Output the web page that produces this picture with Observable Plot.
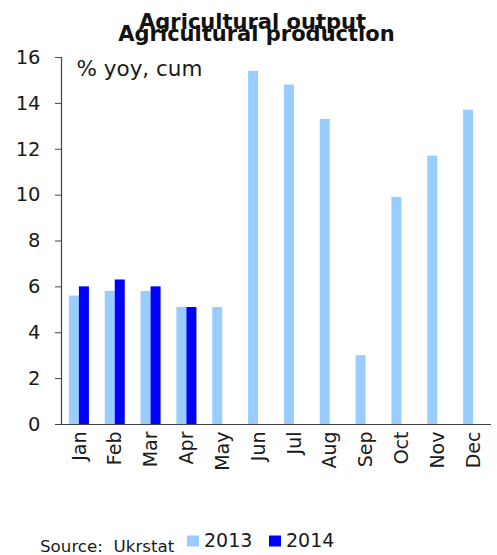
<!DOCTYPE html>
<html><head><meta charset="utf-8">
<script src="https://cdn.jsdelivr.net/npm/d3@7"></script>
<script src="https://cdn.jsdelivr.net/npm/@observablehq/plot@0.6"></script>
<style>
body{margin:0;background:#fff;}
#wrap{position:relative;width:497px;height:555px;overflow:hidden;background:#fff;}
#chart{position:absolute;left:0;top:0;}
#overlay{position:absolute;left:0;top:0;}
</style></head><body>
<div id="wrap"><div id="chart"></div><svg id="overlay" width="497" height="555"></svg></div>
<script>
const months = ["Jan","Feb","Mar","Apr","May","Jun","Jul","Aug","Sep","Oct","Nov","Dec"];
const v2013 = [5.6, 5.8, 5.8, 5.1, 5.1, 15.4, 14.8, 13.3, 3.0, 9.9, 11.7, 13.7];
const v2014 = [6.0, 6.3, 6.0, 5.1, null, null, null, null, null, null, null, null];
const yTicks = [0, 2, 4, 6, 8, 10, 12, 14, 16];
const seriesNames = ["2013", "2014"];
const colors = ["#99ccff", "#0000ff"];
const titleLines = ["Agricultural output", "Agricultural production"];
const unitLabel = "% yoy, cum";
const sourceText = "Source:\u00a0 Ukrstat";

const rows13 = months.map((m, i) => ({month: m, value: v2013[i]}));
const rows14 = months.map((m, i) => ({month: m, value: v2014[i]})).filter(d => d.value != null);

const W = 497, H = 480, ML = 61, MR = 6, MT = 57, MB = 56;
const bw = (W - ML - MR) / months.length;
const barW = 10;
const font = "'DejaVu Sans', Verdana, sans-serif";
const ink = "#1a1a1a";

const chart = Plot.plot({
  width: W, height: H,
  marginLeft: ML, marginRight: MR, marginTop: MT, marginBottom: MB,
  style: {fontFamily: font, fontSize: "19px", color: ink, background: "white"},
  x: {domain: months, padding: 0, round: false, label: null},
  y: {domain: [0, 16], label: null},
  marks: [
    Plot.barY(rows13, {x: "month", y: "value", fill: colors[0], insetLeft: bw/2 - barW, insetRight: bw/2}),
    Plot.barY(rows14, {x: "month", y: "value", fill: colors[1], insetLeft: bw/2, insetRight: bw/2 - barW}),
    Plot.ruleY([0], {stroke: "#444", strokeWidth: 1.2}),
    Plot.frame({anchor: "left", stroke: "#444", strokeWidth: 1.2}),
    Plot.axisY({ticks: yTicks, tickSize: 6, tickPadding: 15, fontSize: 19.5, label: null, stroke: "#444"}),
    Plot.axisX({tickRotate: -90, tickSize: 0, tickPadding: 7, fontSize: 19, label: null})
  ]
});
document.getElementById("chart").appendChild(chart);

const ov = d3.select("#overlay").style("font-family", font);
ov.append("text").attr("x", 252.5).attr("y", 28.5).attr("text-anchor", "middle")
  .attr("font-weight", "bold").attr("font-size", 21).attr("fill", "#111").text(titleLines[0]);
ov.append("text").attr("x", 256.5).attr("y", 40.5).attr("text-anchor", "middle")
  .attr("font-weight", "bold").attr("font-size", 21).attr("fill", "#111").text(titleLines[1]);
ov.append("text").attr("x", 76.5).attr("y", 75.5).attr("font-size", 21.5).attr("fill", ink).text(unitLabel);
ov.append("text").attr("x", 40).attr("y", 552).attr("font-size", 16.7).attr("fill", ink)
  .style("white-space", "pre").text(sourceText);
const legX = [187, 269];
seriesNames.forEach((s, i) => {
  ov.append("rect").attr("x", legX[i]).attr("y", 535.5).attr("width", 12).attr("height", 11).attr("fill", colors[i]);
  ov.append("text").attr("x", legX[i] + 17).attr("y", 547).attr("font-size", 19).attr("fill", ink).text(s);
});
</script>
</body></html>
